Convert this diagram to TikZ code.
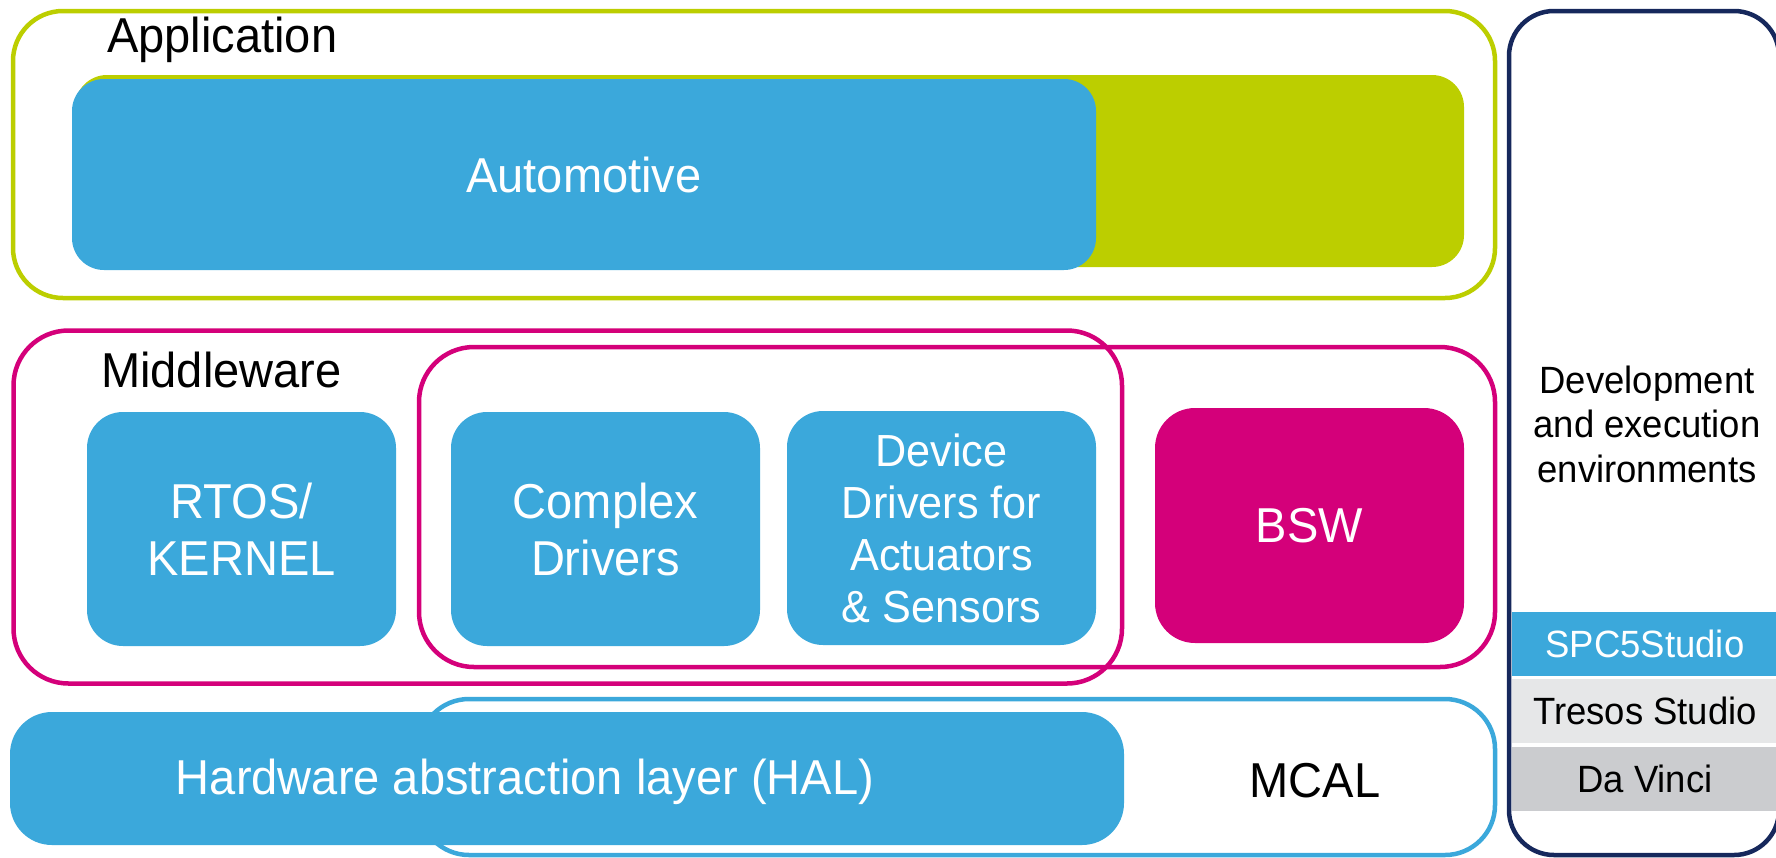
\documentclass[tikz,border=0pt]{standalone}
\usepackage{fontspec}
\setmainfont{Liberation Sans}[FakeStretch=0.96]
\usepackage{xcolor}
\definecolor{stblue}{RGB}{59,168,219}
\definecolor{stgreen}{RGB}{188,206,0}
\definecolor{stpink}{RGB}{212,0,122}
\definecolor{stnavy}{RGB}{22,40,92}
\definecolor{lightgrey}{RGB}{230,231,232}
\definecolor{midgrey}{RGB}{203,204,207}

\begin{document}
\begin{tikzpicture}[x=1pt, y=-1pt,
  every node/.style={font=\fontsize{49}{57}\selectfont, inner sep=0pt, align=center},
  frame/.style={draw=#1, line width=4.5pt},
  blk/.style={fill=stblue, text=white, minimum width=309, minimum height=234, rounded corners=36pt},
  band/.style={minimum width=266, minimum height=64, font=\fontsize{38}{44.5}\selectfont}]
  \useasboundingbox (0,0) rectangle (1776,857);
  % application layer
  \node[frame=stgreen, rounded corners=50pt, minimum width=1482, minimum height=287] (app) at (754,154.5) {};
  \node[fill=stgreen, rounded corners=32pt, minimum width=1389, minimum height=192] (appfill) at (769.5,171) {};
  \node[blk, minimum width=1024, minimum height=191, rounded corners=32pt] (auto) at (584,174.5) {Automotive};
  \node[anchor=base west] (applbl) at (107,52) {Application};
  % middleware: two overlapping groups
  \node[frame=stpink, rounded corners=55pt, minimum width=1108.5, minimum height=353] (mw) at (567.75,507) {};
  \node[frame=stpink, rounded corners=55pt, minimum width=1076, minimum height=320] (drv) at (957,507) {};
  \node[anchor=base west] (mwlbl) at (101,387) {Middleware};
  \node[blk] (rtos) at (241.5,529) {RTOS/\\KERNEL};
  \node[blk] (cplx) at (605.5,529) {Complex\\Drivers};
  \node[blk, font=\fontsize{45}{52}\selectfont] (dev) at (941.5,528) {Device\\Drivers for\\Actuators\\\& Sensors};
  \node[blk, fill=stpink, minimum height=235, rounded corners=40pt] (bsw) at (1309.5,525.5) {BSW};
  % MCAL under the HAL bar
  \node[frame=stblue, rounded corners=50pt, minimum width=1076, minimum height=156] (mcal) at (957,777) {};
  \node[blk, minimum width=1114, minimum height=133, rounded corners=42pt] (hal) at (567,778.5) {};
  \node[anchor=base, text=white] (hallbl) at (525,794) {Hardware abstraction layer (HAL)};
  \node[anchor=base] (mcallbl) at (1315,797) {MCAL};
  % tool column
  \foreach \nm/\yc/\bg/\fg/\txt in {spc/644/stblue/white/SPC5Studio, tresos/711/lightgrey/black/Tresos Studio, davinci/779/midgrey/black/Da Vinci}
    \node[band, fill=\bg, text=\fg] (\nm) at (1645,\yc) {\txt};
  \node[frame=stnavy, rounded corners=45pt, minimum width=270, minimum height=844] (env) at (1644,433) {};
  \node[font=\fontsize{38}{44.5}\selectfont] (envlbl) at (1647,424) {Development\\and execution\\environments};
\end{tikzpicture}
\end{document}
